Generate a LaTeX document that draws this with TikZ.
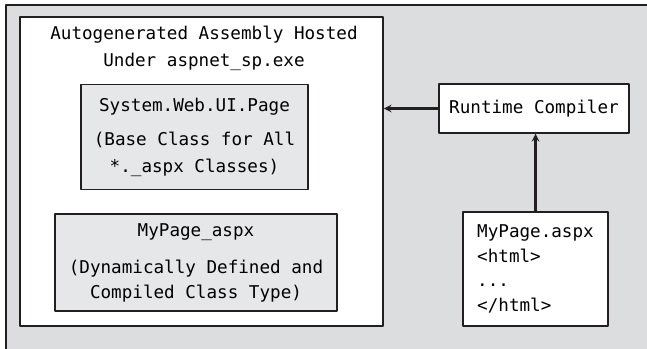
\documentclass[tikz,border=0pt]{standalone}
\usepackage{fontspec}
\setmonofont{DejaVu Sans Mono}
\usetikzlibrary{positioning}
\definecolor{hostgray}{HTML}{DCDDDF}
\definecolor{classgray}{HTML}{E6E7E9}
\definecolor{inkline}{HTML}{231F20}
\tikzset{
  box/.style={draw=inkline, line width=1.5pt, fill=white, inner sep=0pt, align=center},
  classbox/.style={box, fill=classgray},
  flow/.style={->, draw=inkline, line width=2.4pt},
}
\newcommand{\codesize}[1]{\fontsize{17.6}{#1}\selectfont\ttfamily}

\begin{document}
\begin{tikzpicture}[x=1pt, y=-1pt, >=stealth, line join=round]
        \useasboundingbox (0,0) rectangle (647,348);
        % host process background
        \fill[hostgray] (6,5) rectangle (648,349);
        \draw[inkline, line width=1.5pt] (6,349) -- (6,5) -- (648,5);
        % assembly and its classes
        \node[box, minimum width=363pt, minimum height=309pt] (asm) at (201.5,171.5) {};
        \node[align=center, font=\codesize{27}] (asmtitle) at (204,48.5)
            {Autogenerated Assembly Hosted\\Under aspnet\_sp.exe};
        \node[classbox, minimum width=227pt, minimum height=105pt, font=\codesize{27}] (pagecls) at (194.5,137)
            {System.Web.UI.Page\\[7pt](Base Class for All\\*.\_aspx Classes)};
        \node[classbox, minimum width=282pt, minimum height=97pt, font=\codesize{25}] (mypagecls) at (196,262.5)
            {MyPage\_aspx\\[12pt](Dynamically Defined and\\Compiled Class Type)};
        % compiler and source file
        \node[box, minimum width=190pt, minimum height=49pt, font=\codesize{25}] (compiler) at (534,108.5)
            {Runtime Compiler};
        \node[box, align=left, minimum width=145pt, minimum height=114pt, font=\codesize{24.5}] (source) at (535.5,269)
            {MyPage.aspx\\<html>\\...\\</html>};
        \draw[flow] (compiler.west) -- (compiler.west -| asm.east);
        \draw[flow] (source.north) -- (source.north |- compiler.south);
\end{tikzpicture}
\end{document}
